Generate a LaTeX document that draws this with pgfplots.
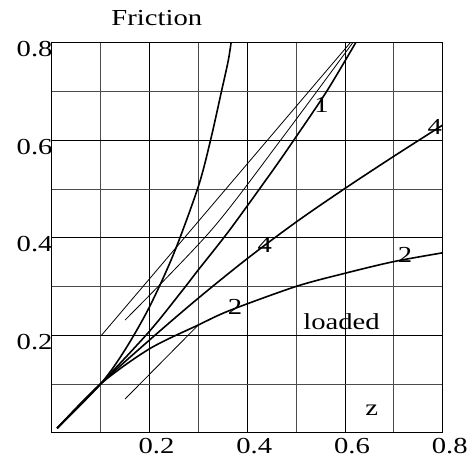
\documentclass[border=0pt]{standalone}
\usepackage{fontspec}
\setmainfont{Liberation Serif}[FakeStretch=1.25]
\usepackage{pgfplots}
\pgfplotsset{compat=1.18}

\begin{document}
\fontsize{23}{27}\selectfont
\begin{tikzpicture}
\begin{axis}[
    scale only axis, width=391bp, height=390bp,
    xmin=0, xmax=0.8, ymin=0, ymax=0.8,
    xtick={0.2,0.4,0.6,0.8}, ytick={0.2,0.4,0.6,0.8},
    minor xtick={0.1,0.3,0.5,0.7}, minor ytick={0.1,0.3,0.5,0.7},
    grid=both,
    major grid style={black, line width=0.7bp},
    minor grid style={black!70, line width=0.8bp},
    axis line style={black, line width=0.8bp},
    major tick length=0pt, minor tick length=0pt,
    /pgf/number format/assume math mode=true,
    /pgf/number format/fixed, /pgf/number format/precision=1,
    xticklabel style={anchor=north, inner sep=0pt, yshift=-5bp, xshift=7bp},
    yticklabel style={anchor=east, inner sep=0pt, yshift=-6.5bp, xshift=1bp},
    clip=false,
]
% thick curves
\addplot[black, line width=1.6bp, smooth] coordinates {
    (0.011,0.009) (0.1,0.1) (0.15,0.17) (0.2,0.258) (0.25,0.368) (0.3,0.505)
    (0.325,0.60) (0.348,0.703) (0.361,0.762) (0.367,0.80)
};
\addplot[black, line width=1.6bp, smooth] coordinates {
    (0.011,0.009) (0.1,0.1) (0.2,0.208) (0.266,0.29) (0.3,0.334) (0.365,0.417)
    (0.453,0.539) (0.498,0.604) (0.5625,0.70) (0.622,0.80)
};
\addplot[black, line width=1.6bp, smooth] coordinates {
    (0.011,0.009) (0.1,0.1) (0.2,0.19) (0.3,0.276) (0.4,0.357) (0.5,0.432)
    (0.6,0.501) (0.7,0.567) (0.8,0.631)
};
\addplot[black, line width=1.6bp, smooth] coordinates {
    (0.011,0.009) (0.1,0.1) (0.2,0.172) (0.3,0.221) (0.365,0.251) (0.5,0.30)
    (0.6,0.327) (0.7,0.351) (0.8,0.369)
};
% thin asymptotes
\addplot[black, line width=0.8bp] coordinates {(0.102,0.2) (0.611,0.8)};
\addplot[black, line width=0.8bp, smooth] coordinates {
    (0.15,0.231) (0.327,0.416) (0.472,0.605) (0.616,0.80)
};
\addplot[black, line width=0.8bp] coordinates {(0.15,0.069) (0.30,0.221)};

\node at (axis cs:0.552,0.672) {1};
\node at (axis cs:0.784,0.628) {4};
\node at (axis cs:0.436,0.385) {4};
\node at (axis cs:0.375,0.258) {2};
\node at (axis cs:0.723,0.364) {2};
\node at (axis cs:0.593,0.228) {loaded};
\node at (axis cs:0.655,0.047) {z};
\node at (axis cs:0.215,0.851) {Friction};
\end{axis}
\path ([shift={(-51.7bp,-29.3bp)}]current axis.south west)
    rectangle ([shift={(27.3bp,42.7bp)}]current axis.north east);
\end{tikzpicture}
\end{document}
